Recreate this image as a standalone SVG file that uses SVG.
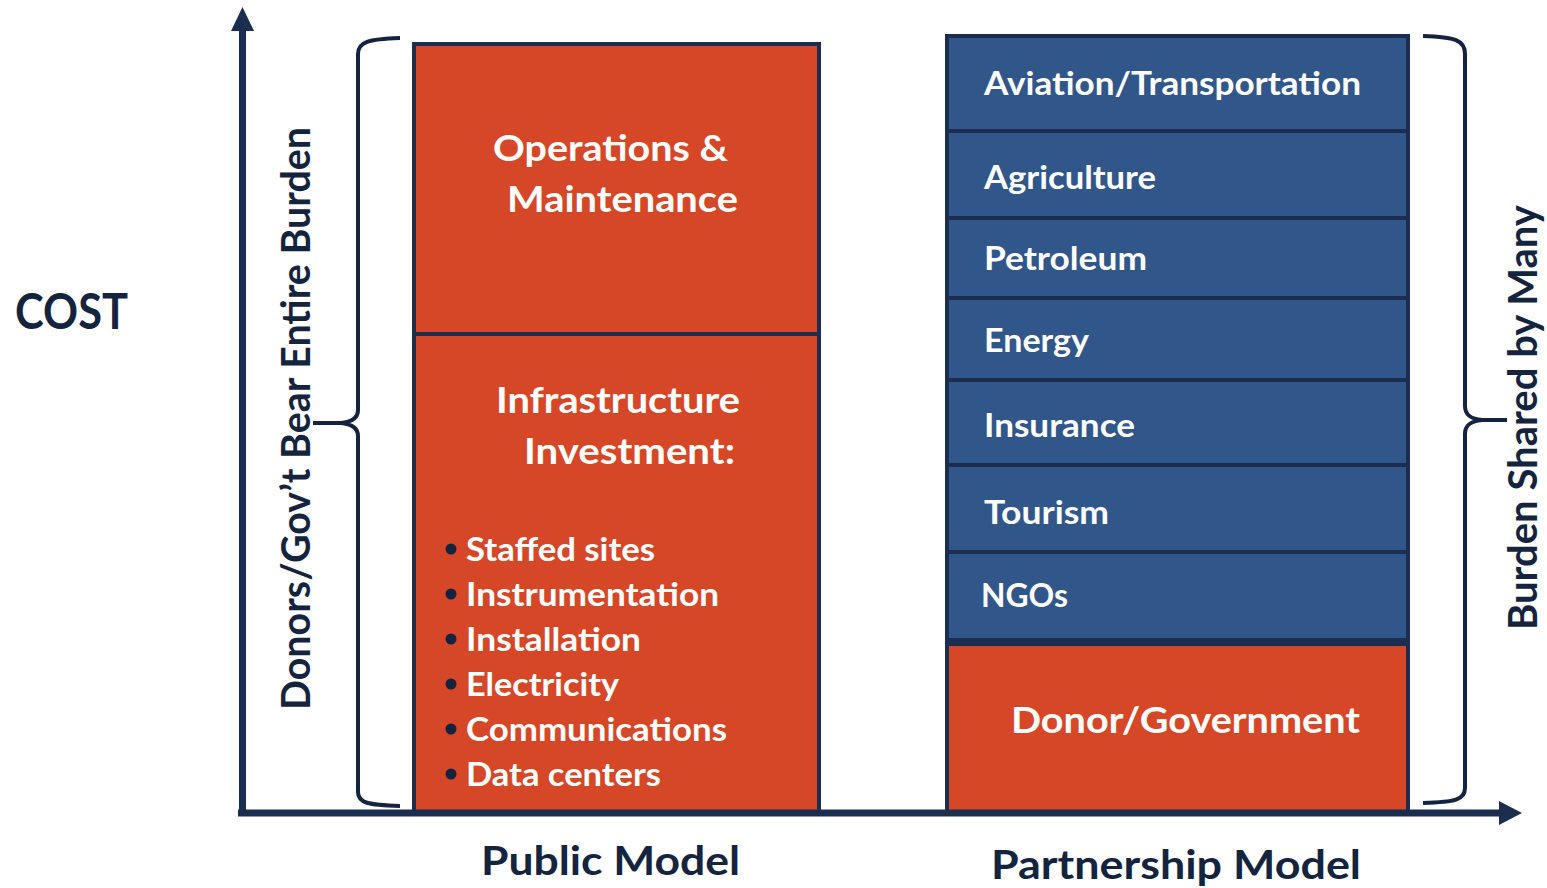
<svg xmlns="http://www.w3.org/2000/svg" width="1547" height="888" viewBox="0 0 1547 888">
<style>
  .t { font-family: Lato, "Open Sans", "Liberation Sans", sans-serif; font-weight: 700; }
  .w { fill: #ffffff; }
  .d { fill: #14243f; }
  .or { fill: #d54727; stroke: #1b2e50; stroke-width: 4; }
  .bl { fill: #31568a; stroke: #1b2e50; stroke-width: 4; }
  .axis { stroke: #1b2e50; stroke-width: 7; fill: none; }
  .brace { stroke: #14233f; stroke-width: 4; fill: none; }
</style>
<rect width="1547" height="888" fill="#ffffff"/>

<g id="cost-label">
  <text class="t d" x="15" y="329" font-size="50" textLength="113" lengthAdjust="spacingAndGlyphs">COST</text>
</g>

<g id="public-om">
  <rect class="or" x="414" y="44" width="405" height="290"/>
  <text class="t w" x="493" y="161" font-size="37" textLength="235" lengthAdjust="spacingAndGlyphs">Operations &amp;</text>
  <text class="t w" x="507" y="212" font-size="37" textLength="231" lengthAdjust="spacingAndGlyphs">Maintenance</text>
</g>

<g id="public-infra">
  <rect class="or" x="414" y="334" width="405" height="478"/>
  <text class="t w" x="496" y="413" font-size="37" textLength="244" lengthAdjust="spacingAndGlyphs">Infrastructure</text>
  <text class="t w" x="524" y="464" font-size="37" textLength="211" lengthAdjust="spacingAndGlyphs">Investment:</text>
  <g class="d">
    <circle cx="451" cy="549" r="5.5"/>
    <circle cx="451" cy="594" r="5.5"/>
    <circle cx="451" cy="639" r="5.5"/>
    <circle cx="451" cy="684" r="5.5"/>
    <circle cx="451" cy="729" r="5.5"/>
    <circle cx="451" cy="774" r="5.5"/>
  </g>
  <text class="t w" x="466" y="561" font-size="32" textLength="189" lengthAdjust="spacingAndGlyphs">Staffed sites</text>
  <text class="t w" x="466" y="606" font-size="32" textLength="253" lengthAdjust="spacingAndGlyphs">Instrumentation</text>
  <text class="t w" x="466" y="651" font-size="32" textLength="175" lengthAdjust="spacingAndGlyphs">Installation</text>
  <text class="t w" x="466" y="696" font-size="32" textLength="153" lengthAdjust="spacingAndGlyphs">Electricity</text>
  <text class="t w" x="466" y="741" font-size="32" textLength="261" lengthAdjust="spacingAndGlyphs">Communications</text>
  <text class="t w" x="466" y="786" font-size="32" textLength="195" lengthAdjust="spacingAndGlyphs">Data centers</text>
</g>

<g id="aviation">
  <rect class="bl" x="947" y="36" width="461" height="95"/>
  <text class="t w" x="984" y="95" font-size="32" textLength="377" lengthAdjust="spacingAndGlyphs">Aviation/Transportation</text>
</g>
<g id="agriculture">
  <rect class="bl" x="947" y="131" width="461" height="87"/>
  <text class="t w" x="984" y="189" font-size="32" textLength="172" lengthAdjust="spacingAndGlyphs">Agriculture</text>
</g>
<g id="petroleum">
  <rect class="bl" x="947" y="218" width="461" height="80"/>
  <text class="t w" x="984" y="270" font-size="32" textLength="163" lengthAdjust="spacingAndGlyphs">Petroleum</text>
</g>
<g id="energy">
  <rect class="bl" x="947" y="298" width="461" height="82"/>
  <text class="t w" x="984" y="352" font-size="32" textLength="105" lengthAdjust="spacingAndGlyphs">Energy</text>
</g>
<g id="insurance">
  <rect class="bl" x="947" y="380" width="461" height="85"/>
  <text class="t w" x="984" y="437" font-size="32" textLength="151" lengthAdjust="spacingAndGlyphs">Insurance</text>
</g>
<g id="tourism">
  <rect class="bl" x="947" y="465" width="461" height="87"/>
  <text class="t w" x="984" y="524" font-size="32" textLength="125" lengthAdjust="spacingAndGlyphs">Tourism</text>
</g>
<g id="ngos">
  <rect class="bl" x="947" y="552" width="461" height="88"/>
  <text class="t w" x="981" y="607" font-size="32" textLength="87" lengthAdjust="spacingAndGlyphs">NGOs</text>
</g>
<g id="donor-government">
  <rect x="947" y="640" width="461" height="6" fill="#1b2e50"/>
  <rect class="or" x="947" y="644" width="461" height="168"/>
  <text class="t w" x="1011" y="733" font-size="37" textLength="349" lengthAdjust="spacingAndGlyphs">Donor/Government</text>
</g>

<g id="left-brace">
  <path class="brace" d="M400,38 C368,39 358,42 358,54 L358,410 C358,419 351,422 341,423 L313,423 M341,423 C351,424 358,427 358,436 L358,792 C358,803 368,805 400,806"/>
  <text class="t d" transform="translate(310,710) rotate(-90)" font-size="40" textLength="583" lengthAdjust="spacingAndGlyphs">Donors/Gov’t Bear Entire Burden</text>
</g>

<g id="right-brace">
  <path class="brace" d="M1423,36 C1455,37 1465,40 1465,54 L1465,406 C1465,416 1472,419 1482,420 L1507,420 M1482,420 C1472,421 1465,424 1465,434 L1465,788 C1465,800 1455,802 1423,803"/>
  <text class="t d" transform="translate(1537,630) rotate(-90)" font-size="40" textLength="425" lengthAdjust="spacingAndGlyphs">Burden Shared by Many</text>
</g>

<g id="connectors">
  <line class="axis" x1="242.5" y1="816" x2="242.5" y2="28"/>
  <polygon points="242.5,7 231,31 254,31" fill="#1b2e50"/>
  <line class="axis" x1="238" y1="813" x2="1502" y2="813"/>
  <polygon points="1522,813 1499,801 1499,825" fill="#1b2e50"/>
</g>

<g id="axis-labels">
  <text class="t d" x="481" y="875" font-size="41" textLength="259" lengthAdjust="spacingAndGlyphs">Public Model</text>
  <text class="t d" x="991" y="879" font-size="41" textLength="370" lengthAdjust="spacingAndGlyphs">Partnership Model</text>
</g>
</svg>
